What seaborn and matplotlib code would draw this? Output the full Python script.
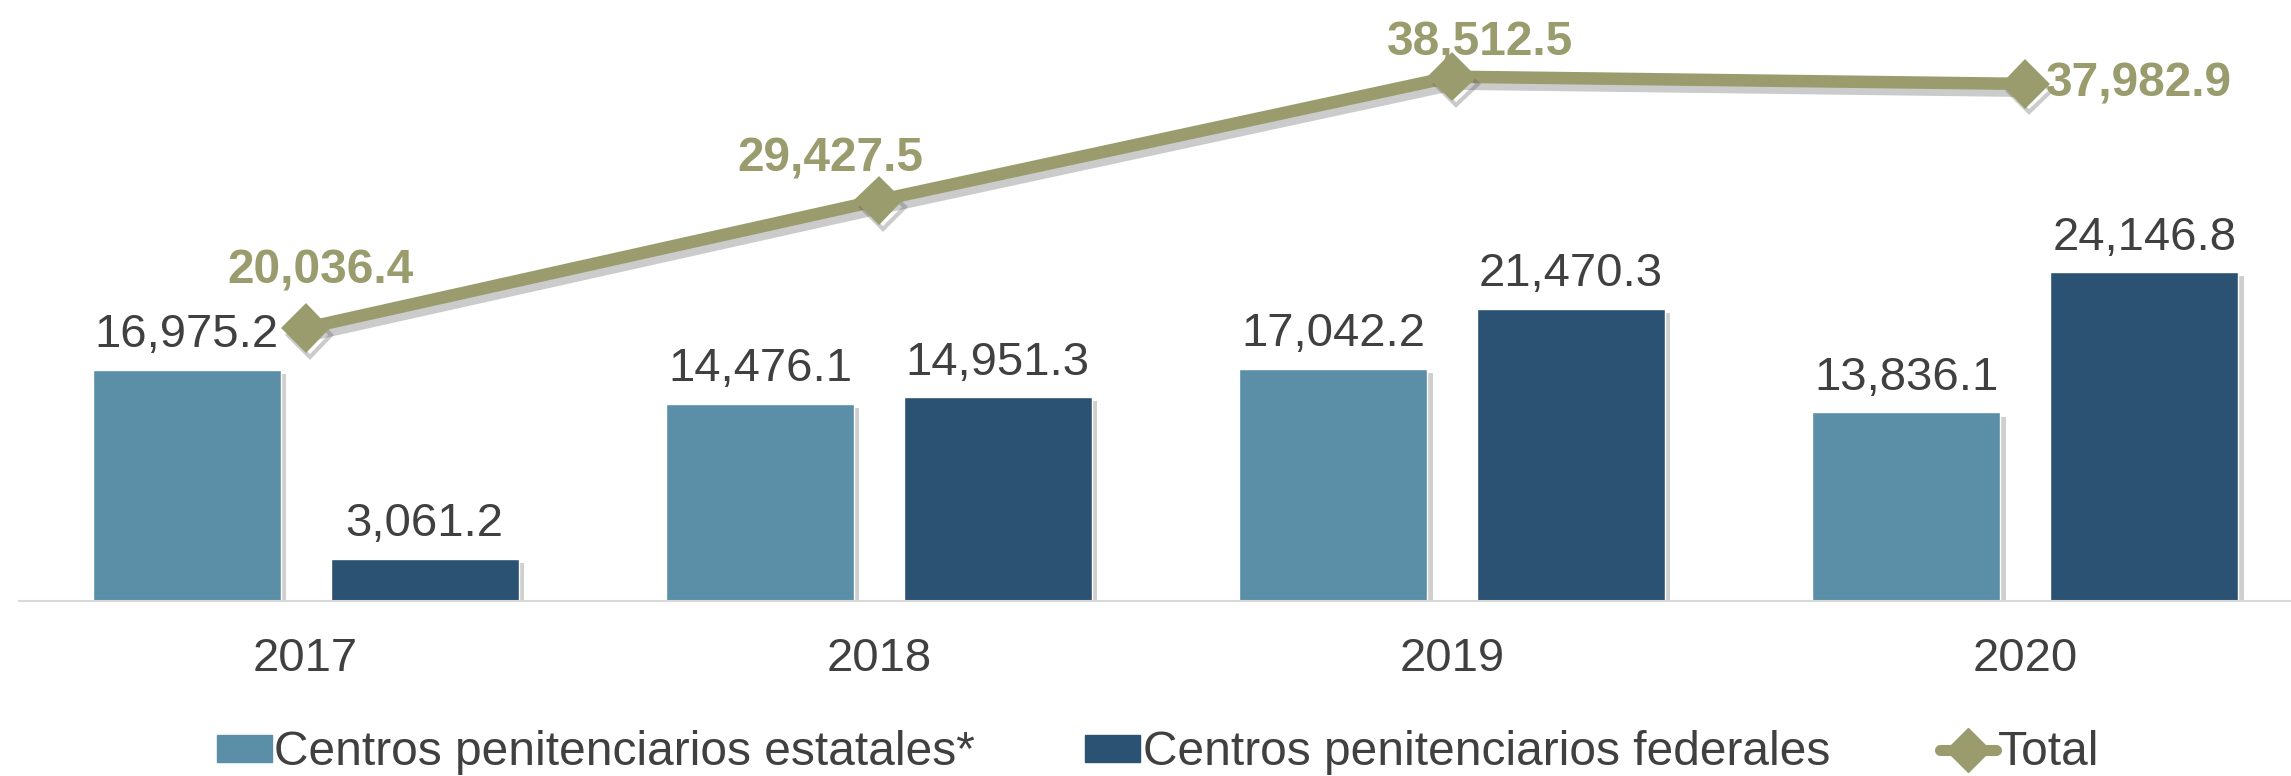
import numpy as np
import pandas as pd
import matplotlib
matplotlib.use("Agg")
import matplotlib.pyplot as plt
import matplotlib.patheffects as pe
from matplotlib.patches import Patch
from matplotlib.lines import Line2D
import seaborn as sns

years = ["2017", "2018", "2019", "2020"]
estatales = [16975.2, 14476.1, 17042.2, 13836.1]
federales = [3061.2, 14951.3, 21470.3, 24146.8]
total = [20036.4, 29427.5, 38512.5, 37982.9]
series_names = ["Centros penitenciarios estatales*", "Centros penitenciarios federales"]

# where each total label sits relative to its marker (points)
total_label_offsets = [(11, 41, "center"), (-35, 30, "center"), (20, 24, "center"), (15, 0, "left")]

light = "#5b8fa8"
dark = "#2b5272"
olive = "#9a9c6e"
text_grey = "#404040"

df = pd.DataFrame({
    "year": years * 2,
    "value": estatales + federales,
    "serie": [series_names[0]] * 4 + [series_names[1]] * 4,
})

sns.set_style("white")
plt.rcParams["font.family"] = ["Liberation Sans", "DejaVu Sans"]

fig = plt.figure(figsize=(22.91, 7.76), dpi=100)
ax = fig.add_axes([0.0083, 0.226, 1.0008, 0.774])

sns.barplot(data=df, x="year", y="value", hue="serie", order=years,
            hue_order=series_names, palette=[light, dark],
            width=0.83, gap=0.21, ax=ax, legend=False, saturation=1)

for p in ax.patches:
    p.set_path_effects([pe.withSimplePatchShadow(offset=(4, -3), shadow_rgbFace="#777777", alpha=0.35)])

for cont in ax.containers:
    ax.bar_label(cont, labels=[f"{v:,.1f}" for v in cont.datavalues],
                 padding=9, fontsize=34, color=text_grey)

xs = np.arange(len(years))
sns.lineplot(x=xs, y=total, ax=ax, color=olive, linewidth=9, marker="D",
             markersize=22, markeredgecolor=olive, markeredgewidth=3, zorder=5,
             solid_joinstyle="round",
             path_effects=[pe.SimpleLineShadow(offset=(3, -5), shadow_color="#555555", alpha=0.3), pe.Normal()])
for ln in ax.lines:
    ln.set_markeredgecolor(olive)

for x, v, (dx, dy, ha) in zip(xs, total, total_label_offsets):
    ax.annotate(f"{v:,.1f}", (x, v), xytext=(dx, dy), textcoords="offset points",
                ha=ha, va="center", fontsize=34.5, fontweight="bold", color=olive, zorder=6)

ax.set_xlim(-0.5, 3.5)
ax.set_ylim(0, 44150)
ax.set_xlabel("")
ax.set_ylabel("")
ax.set_yticks([])
ax.tick_params(axis="x", length=0, pad=26, labelsize=34, labelcolor=text_grey)
for s in ["top", "right", "left"]:
    ax.spines[s].set_visible(False)
ax.spines["bottom"].set_color("#d9d9d9")
ax.spines["bottom"].set_linewidth(1.5)

handles = [
    Patch(facecolor=light, edgecolor=light),
    Patch(facecolor=dark, edgecolor=dark),
    Line2D([0], [0], color=olive, linewidth=8, marker="D", markersize=22),
]
fig.legend(handles, series_names + ["Total"], loc="center", bbox_to_anchor=(0.5055, 0.03),
           ncol=3, frameon=False, fontsize=34.5, labelcolor=text_grey,
           handlelength=1.15, handleheight=0.5, handletextpad=0.05, columnspacing=2.3)
fig.savefig("out.png", dpi=100)
